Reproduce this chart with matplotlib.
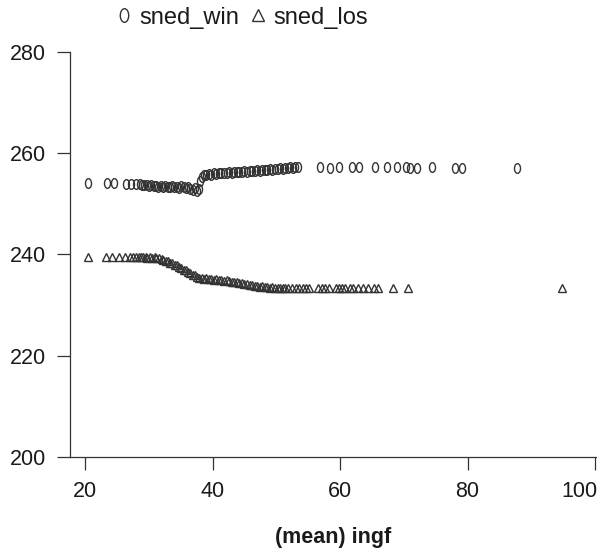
import matplotlib
matplotlib.use("Agg")
import matplotlib.pyplot as plt
from matplotlib.path import Path
from matplotlib.transforms import Affine2D, ScaledTranslation

plt.rcParams['font.family'] = ['Liberation Sans', 'DejaVu Sans']

# ---- data ----
win_x = [20.5, 23.5, 24.6, 26.4, 27.2, 28.0,
         28.6, 29.0, 29.3, 29.7, 30.0, 30.4, 30.8, 31.1, 31.5, 31.9, 32.2, 32.6,
         33.0, 33.3, 33.7, 34.0, 34.4, 34.8, 35.1, 35.5, 35.8, 36.2, 36.5, 36.9,
         37.2, 37.5, 37.8,
         38.1, 38.3, 38.6, 39.0, 39.4, 39.8, 40.2, 40.6, 41.0, 41.4, 41.8, 42.2,
         42.6, 43.0, 43.4, 43.8, 44.2, 44.6, 45.0, 45.4, 45.8, 46.2, 46.6, 47.0,
         47.4, 47.8, 48.2, 48.6, 49.0, 49.4, 49.8, 50.2, 50.6, 51.0, 51.4, 51.8,
         52.2, 52.6, 53.0, 53.4,
         56.9, 58.4, 59.9, 61.8, 62.9, 65.5, 67.3, 68.9, 70.3, 71.0, 72.0, 74.4,
         78.0, 79.1, 87.7]
win_y = [254.1, 254.1, 254.1, 254.0, 254.0, 253.9,
         253.9, 253.8, 253.7, 253.8, 253.6, 253.7, 253.5, 253.6, 253.4, 253.5, 253.3, 253.5,
         253.4, 253.3, 253.5, 253.3, 253.4, 253.2, 253.5, 253.3, 253.1, 253.4, 253.0, 252.8,
         253.1, 252.6, 252.9,
         254.6, 255.4, 255.8, 255.7, 255.9, 255.8, 256.0, 255.9, 256.0, 256.1, 256.0, 256.1,
         256.2, 256.1, 256.2, 256.3, 256.2, 256.3, 256.4, 256.3, 256.4, 256.5, 256.4, 256.6,
         256.5, 256.6, 256.7, 256.6, 256.8, 256.7, 256.9, 256.8, 257.0, 256.9, 257.1, 257.0,
         257.2, 257.1, 257.3, 257.2,
         257.2, 257.1, 257.2, 257.3, 257.2, 257.3, 257.2, 257.3, 257.2, 257.1, 257.0, 257.2,
         257.1, 257.0, 257.1]

los_x = [20.5, 23.3, 24.3, 25.3, 26.2, 27.0, 27.6, 28.0, 28.4,
         28.8, 29.1, 29.5, 29.8, 30.2, 30.5, 30.9, 31.2, 31.6, 32.0, 32.3, 32.7,
         33.0, 33.4, 33.7, 34.1, 34.4, 34.8, 35.1, 35.5, 35.8, 36.2, 36.5, 36.9,
         37.2, 37.6, 37.9, 38.3, 38.7, 39.0, 39.4, 39.8, 40.2, 40.6, 41.0, 41.4,
         41.8, 42.2, 42.6, 43.0, 43.4, 43.8, 44.2, 44.6, 45.0, 45.4, 45.8, 46.2,
         46.6, 47.0, 47.4, 47.8, 48.2, 48.6, 49.0, 49.4, 49.8, 50.2, 50.6, 51.0,
         51.4, 51.8, 52.5, 53.1, 53.6, 54.2, 54.7, 55.2, 56.5, 57.1, 57.6, 58.2,
         59.3, 59.8, 60.3, 60.8, 61.5, 62.0, 62.8, 63.6, 64.4, 65.3, 66.0,
         68.3, 70.7, 94.8]
los_y = [239.6, 239.6, 239.6, 239.6, 239.5, 239.6, 239.5, 239.6, 239.5,
         239.6, 239.5, 239.6, 239.4, 239.5, 239.4, 239.5, 239.3, 239.3, 239.1, 239.0, 238.8,
         238.7, 238.4, 238.3, 238.0, 237.9, 237.5, 237.4, 237.0, 236.9, 236.5, 236.4, 236.0,
         235.9, 235.6, 235.4, 235.4, 235.2, 235.3, 235.1, 235.2, 235.0, 235.1, 234.9, 235.0,
         234.8, 234.9, 234.7, 234.6, 234.5, 234.6, 234.3, 234.4, 234.2, 234.1, 234.0, 233.9,
         233.8, 233.7, 233.6, 233.7, 233.5, 233.5, 233.4, 233.5, 233.4, 233.3, 233.4, 233.3,
         233.4, 233.3, 233.3, 233.4, 233.3, 233.3, 233.4, 233.3, 233.3, 233.3, 233.4, 233.3,
         233.3, 233.4, 233.3, 233.3, 233.4, 233.3, 233.3, 233.3, 233.3, 233.4, 233.3,
         233.3, 233.3, 233.3]

series_labels = ["sned_win", "sned_los"]
x_ticks = [20, 40, 60, 80, 100]
y_ticks = [200, 220, 240, 260, 280]
x_label = "(mean) ingf"

# ---- figure ----
fig = plt.figure(figsize=(5.97, 5.55), dpi=100)
ax = fig.add_axes([0.1173, 0.1766, 0.8827, 0.7297])

ellipse = Path.unit_circle().transformed(Affine2D().scale(0.62, 1.0))
mcol = '#333333'

ax.plot(win_x, win_y, linestyle='none', marker=ellipse, markersize=7,
        markerfacecolor='none', markeredgecolor=mcol, markeredgewidth=1.0,
        label=series_labels[0])
ax.plot(los_x, los_y, linestyle='none', marker='^', markersize=5.8,
        markerfacecolor='none', markeredgecolor=mcol, markeredgewidth=1.0,
        label=series_labels[1])

ax.set_xlim(17.65, 100.3)
ax.set_ylim(200, 280)
ax.set_xticks(x_ticks)
ax.set_yticks(y_ticks)
for s in ['top', 'right']:
    ax.spines[s].set_visible(False)
for s in ['left', 'bottom']:
    ax.spines[s].set_color('#333333')
    ax.spines[s].set_linewidth(0.9)
ax.tick_params(axis='both', direction='out', length=9.5, width=0.9,
               color='#333333', labelsize=15.5, labelcolor='#1a1a1a', pad=8)
ax.set_xlabel(x_label, fontsize=15.5, fontweight='bold', color='#1a1a1a', labelpad=18)

# last x tick label sits inside the figure edge, as in the reference
last = ax.get_xticklabels()[-1]
last.set_horizontalalignment('right')
last.set_transform(last.get_transform() + ScaledTranslation(2 / 72, 0, fig.dpi_scale_trans))

leg = fig.legend(loc='center', bbox_to_anchor=(0.406, 0.968), ncol=2, frameon=False,
                 fontsize=17, markerscale=1.4, handlelength=0.6, handletextpad=0.35,
                 columnspacing=0.5, labelcolor='#1a1a1a')

fig.savefig("out.png", dpi=100)
